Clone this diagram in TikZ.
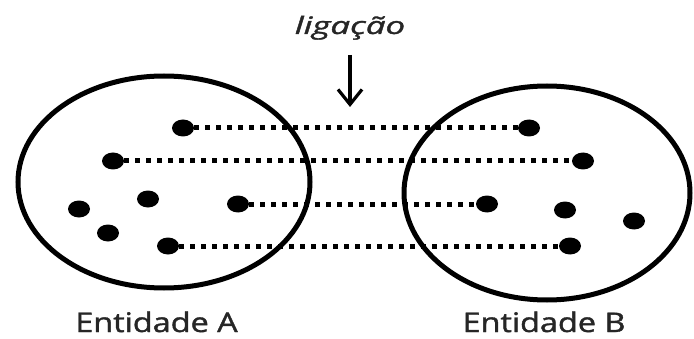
\documentclass[tikz,border=0pt]{standalone}
\usepackage{fontspec}
\setmainfont{Open Sans}
\newfontfamily\lblfont[FakeBold=1.3]{Open Sans}
\usetikzlibrary{shapes.geometric,arrows.meta}
\tikzset{
  setcirc/.style={draw=black,line width=5pt},
  pt/.style={ellipse,fill=black,inner sep=0pt,minimum width=22pt,minimum height=17pt},
  link/.style={line width=5pt,dash pattern=on 5pt off 6pt,black},
  lbl/.style={inner sep=0pt,anchor=base,text=black!85},
}
\begin{document}
\begin{tikzpicture}[x=1pt,y=1pt]
\useasboundingbox (0,0) rectangle (694,338);
% sets
\draw[setcirc] (164,156) ellipse [x radius=146,y radius=106];
\draw[setcirc] (547,145) ellipse [x radius=143,y radius=107];
% entity A points
\node[pt] (a1) at (183,210) {};
\node[pt] (a2) at (113,177) {};
\node[pt] (a3) at (148,139) {};
\node[pt] (a4) at (79,129) {};
\node[pt] (a5) at (108,105) {};
\node[pt] (a6) at (238,134) {};
\node[pt] (a7) at (168,92) {};
% entity B points
\node[pt] (b1) at (529,210) {};
\node[pt] (b2) at (583,177) {};
\node[pt] (b3) at (487,134) {};
\node[pt] (b4) at (565,128) {};
\node[pt] (b5) at (634,117) {};
\node[pt] (b6) at (570,92) {};
% links
\draw[link] (a1) -- (b1);
\draw[link] (a2) -- (b2);
\draw[link] (a6) -- (b3);
\draw[link] (a7) -- (b6);
% labels
\node[lbl] (lig) at (350,304) {\scalebox{1.45}[1]{\lblfont\fontsize{24}{28}\selectfont\itshape ligação}};
\node[lbl] (ea) at (156.5,6) {\scalebox{1.2}[1]{\lblfont\fontsize{27}{31}\selectfont Entidade A}};
\node[lbl] (eb) at (544,6) {\scalebox{1.2}[1]{\lblfont\fontsize{27}{31}\selectfont Entidade B}};
% arrow
\coordinate (arrS) at (350,283);
\coordinate (arrE) at (350,231);
\draw[line width=3.2pt,-{Straight Barb[length=15pt,width=24pt]}] (arrS) -- (arrE);
\end{tikzpicture}
\end{document}
